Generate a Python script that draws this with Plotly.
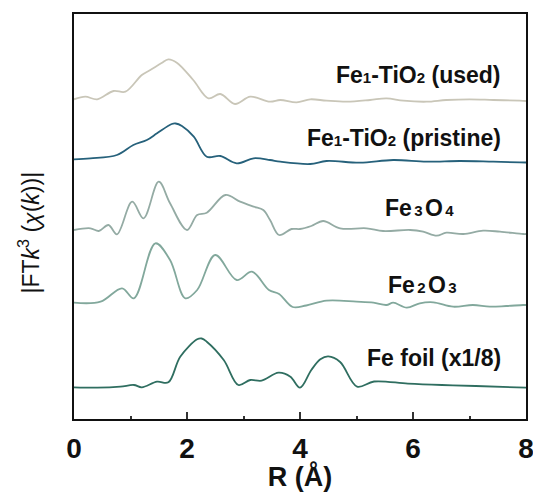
import plotly.graph_objects as go

# R (Angstrom) and |FT k^3 chi(k)| (arbitrary units, baseline-relative) per sample
used_r = [0, 0.2, 0.41, 0.70, 0.91, 1.20, 1.35, 1.55, 1.67, 1.82, 2.11, 2.38, 2.59, 2.85, 3.12, 3.47, 3.65,
          3.94, 4.18, 4.47, 4.83, 5.24, 5.53, 5.83, 6.24, 6.59, 7.0, 7.42, 7.89, 8.0]
used_y = [0.7, 3.3, 0.7, 9, 8.3, 25, 30, 37, 40.7, 37.3, 20, 1.7, 6, -4, 3.3, -1.7, 0,
          -2.3, 0.7, -0.7, -1.7, 0, 1.7, -0.7, -1.7, 0, 0.7, 0, -0.7, -1]

pristine_r = [0, 0.29, 0.76, 1.05, 1.29, 1.47, 1.73, 1.8, 1.91, 2.12, 2.35, 2.59, 2.88, 3.18, 3.47, 3.65,
              4.18, 4.47, 5.06, 5.65, 6.24, 6.83, 7.42, 7.89, 8.0]
pristine_y = [0.7, 1.7, 5, 15, 20, 26.7, 36, 36.5, 34, 23.3, 3.3, 4, -3.3, 1.7, 0, -1.7,
              -4, -1, -2.7, 0, -1.7, -1, -1.7, -2.3, -2.5]

fe3o4_r = [0, 0.29, 0.44, 0.61, 0.76, 1.03, 1.23, 1.50, 1.70, 2.00, 2.18, 2.35, 2.68, 2.94, 3.18, 3.35, 3.47,
           3.63, 3.85, 4.0, 4.2, 4.41, 4.71, 5.18, 5.47, 5.95, 6.18, 6.42, 6.59, 6.89, 7.24, 7.54, 7.95, 8.0]
fe3o4_y = [0, 1.7, -1, 5, -4.3, 28.3, 11.7, 48.3, 26.7, 0, 15, 17.3, 35, 28.3, 23.3, 20, 10,
           -5, 1, 1, 4, 9, 1.7, 1.7, -1, 0, -1.7, -5.7, -2.7, -4, -0.7, -1.7, -4, -4]

fe2o3_r = [0, 0.47, 0.85, 1.06, 1.44, 1.70, 1.97, 2.18, 2.50, 2.88, 3.15, 3.45, 3.63, 3.87, 4.11, 4.47,
           5.0, 5.3, 5.53, 5.65, 5.89, 6.12, 6.36, 6.71, 7.06, 7.36, 7.65, 7.95, 8.0]
fe2o3_y = [0.3, 1.3, 14.7, 4.7, 59.7, 43, 4.7, 13, 48, 23, 31.3, 13, 9, -4, -2.5, 2.3,
           1.3, 0.3, -2, 0.3, -4.7, -0.3, 0.7, -3.7, -2, -3.7, -3, -2, -2]

foil_r = [0, 0.41, 0.82, 1.06, 1.20, 1.47, 1.67, 1.88, 2.18, 2.26, 2.35, 2.65, 2.91, 3.12, 3.32, 3.62, 3.83,
          4.00, 4.2, 4.36, 4.50, 4.71, 5.01, 5.31, 5.91, 6.51, 7.11, 8.0]
foil_y = [-0.3, -0.7, 0.3, 2, -0.3, 5.3, 4.7, 30.3, 47.7, 48.5, 45.3, 27, 2, 7, 6.3, 14.3, 10.3,
          -0.7, 17, 27.7, 30.6, 25, 0.4, 5.5, 3.4, 2, 1, -0.7]

offsets = [319, 259, 189, 116, 32]
colors = ["#c9c6b8", "#26617b", "#94aba4", "#82a89c", "#2f6e60"]
S = "<span style='font-size:15px'>{}</span>"
G = "<span style='font-size:12px'>\u2009</span>"
labels = [
    "<b>Fe" + S.format("1") + "-TiO" + S.format("2") + " (used)</b>",
    "<b>Fe" + S.format("1") + "-TiO" + S.format("2") + " (pristine)</b>",
    "<b>Fe" + G + S.format("3") + G + "O" + G + S.format("4") + "</b>",
    "<b>Fe" + G + S.format("2") + G + "O" + G + S.format("3") + "</b>",
    "<b>Fe foil (x1/8)</b>",
]
label_x = [7.59, 7.59, 6.76, 6.82, 7.60]
label_y = [344, 281, 211, 134, 61]

series = [(used_r, used_y), (pristine_r, pristine_y), (fe3o4_r, fe3o4_y),
          (fe2o3_r, fe2o3_y), (foil_r, foil_y)]

fig = go.Figure()
for (r, y), off, c in zip(series, offsets, colors):
    fig.add_trace(go.Scatter(x=r, y=[v + off for v in y], mode="lines",
                             line=dict(color=c, width=1.8, shape="spline", smoothing=1.0),
                             showlegend=False, hoverinfo="skip"))

for t, x, y in zip(labels, label_x, label_y):
    fig.add_annotation(x=x, y=y, xref="x", yref="y", text=t, showarrow=False,
                       xanchor="right", yanchor="middle",
                       font=dict(family="Liberation Sans, Arial", size=23, color="#111"))

fig.add_annotation(x=-0.1, y=0.46, xref="paper", yref="paper", textangle=-90,
                   text="|FT<i>k</i><sup>3</sup> (<i>χ</i>(<i>k</i>))|", showarrow=False,
                   xanchor="center", yanchor="middle",
                   font=dict(family="Liberation Sans, Arial", size=23, color="#111"))

fig.update_layout(
    width=533, height=492,
    margin=dict(l=74, r=7, t=14, b=73),
    paper_bgcolor="white", plot_bgcolor="white",
    xaxis=dict(range=[0, 8], dtick=2, ticks="inside", ticklen=7, tickwidth=1.5, tickcolor="#333",
               minor=dict(ticks="inside", ticklen=3.5, dtick=1, tickwidth=1.5, tickcolor="#333"),
               showgrid=False, zeroline=False, showline=True, linecolor="#111", linewidth=1.5,
               mirror=True, ticklabelstandoff=4, automargin=False, ticklabeloverflow="allow",
               tickfont=dict(family="Liberation Sans, Arial", size=28, color="#111"),
               title=dict(text="<b>R (Å)</b>", standoff=12,
                          font=dict(family="Liberation Sans, Arial", size=27, color="#111"))),
    yaxis=dict(range=[0, 405], showticklabels=False, ticks="", showgrid=False, zeroline=False,
               showline=True, linecolor="#111", linewidth=1.5, mirror=True, automargin=False),
)
fig.update_xaxes(tickprefix="<b>", ticksuffix="</b>")

fig.write_html("out.html")
